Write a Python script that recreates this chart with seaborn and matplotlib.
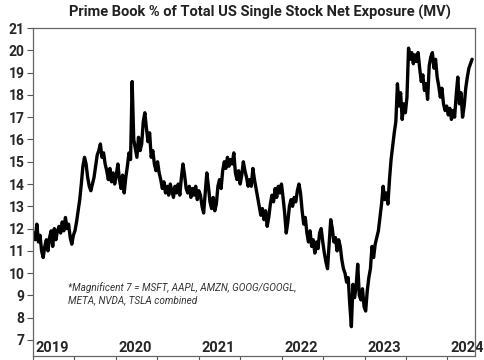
import numpy as np
import pandas as pd
import seaborn as sns
import matplotlib.pyplot as plt
import matplotlib.dates as mdates
import matplotlib.transforms as mtrans

# weekly readings, one list per calendar year
y2019 = [11.8, 11.5, 12.2, 11.4, 11.7, 11.0, 10.7, 11.2, 11.5, 11.0, 11.6,
         11.9, 11.2, 12.0, 11.5, 11.9, 12.1, 11.8, 12.3, 11.9, 12.5,
         12.0, 12.2, 11.6, 11.3, 11.7, 11.9, 12.3, 12.8, 13.3, 14.0, 14.8,
         15.2, 14.9, 14.3, 13.9, 13.7, 14.0, 14.3, 14.8, 15.3, 15.5, 15.8, 15.2,
         15.4, 14.9, 14.6, 14.2, 14.7, 14.1, 14.5, 14.0, 14.4]
y2020 = [14.9, 14.2, 13.8, 14.4, 13.6, 14.3, 14.8, 15.4, 15.1, 18.6, 16.0,
         15.6, 15.2, 16.1, 15.5, 15.8, 16.8, 17.2, 16.5, 15.9, 16.3, 15.2, 15.5,
         14.9, 14.6, 15.0, 14.5, 14.2, 13.8, 14.1, 13.6, 13.9, 13.5, 14.0, 13.7,
         13.4, 13.9, 13.6, 14.0, 13.5, 14.3, 14.9, 14.4, 13.8,
         13.6, 13.9, 13.4, 13.8, 13.5, 13.9, 13.3, 13.7]
y2021 = [13.5, 13.0, 12.7, 13.6, 14.5, 13.9, 13.2, 12.9, 13.4, 12.8, 13.1,
         13.9, 14.2, 13.8, 14.6, 15.0, 14.7, 15.2, 14.8, 15.1, 14.9, 15.4,
         14.5, 14.2, 14.6, 14.0, 14.4, 15.0, 14.6, 14.3, 13.9, 14.2, 13.9, 14.7,
         14.2, 13.8, 13.4, 13.0, 12.6, 12.9, 12.4, 12.8, 12.1, 12.5,
         13.1, 13.5, 13.2, 13.8, 13.4, 13.9, 13.6, 14.0]
y2022 = [13.4, 12.7, 11.8, 12.3, 13.0, 13.3, 13.0, 13.4, 13.2, 13.7, 14.0, 13.6,
         12.8, 12.2, 12.5, 11.8, 11.4, 11.9, 11.2, 11.5, 10.9, 11.4, 11.1,
         11.8, 12.0, 11.4, 10.9, 10.5, 10.2, 11.3, 12.4, 12.0,
         11.4, 11.6, 11.0, 11.5, 11.2, 10.6, 10.2, 10.0, 9.6, 9.8, 8.6, 7.6,
         9.5, 8.9, 9.4, 10.4, 9.0, 8.8, 9.3, 8.5]
y2023 = [8.3, 9.2, 9.8, 10.2, 11.2, 10.7, 11.3, 11.6, 11.9, 12.5, 13.1,
         13.9, 13.3, 13.6, 13.1, 14.2, 15.1, 15.7, 16.3, 16.8, 18.5,
         17.5, 18.1, 16.9, 17.6, 17.2, 17.9, 20.1, 19.6, 19.9, 19.4, 19.8, 19.5, 19.9,
         19.2, 18.6, 18.9, 18.2, 18.5, 17.8, 19.3, 19.7, 19.9, 19.2, 19.6,
         18.8, 18.4, 17.9, 18.3, 17.6, 17.3, 17.5, 17.1]
y2024 = [17.4, 16.9, 17.3, 17.0, 18.0, 18.8, 17.6, 18.1, 17.0, 17.5,
         18.3, 18.8, 19.2, 19.4, 19.6]

title = "Prime Book % of Total US Single Stock Net Exposure (MV)"
note = "*Magnificent 7 = MSFT, AAPL, AMZN, GOOG/GOOGL,\nMETA, NVDA, TSLA combined"

vals = y2019 + y2020 + y2021 + y2022 + y2023 + y2024
df = pd.DataFrame({
    "date": pd.date_range("2019-01-04", periods=len(vals), freq="7D"),
    "pct": vals,
})

sns.set_style("ticks")
plt.rcParams["font.family"] = ["Roboto", "DejaVu Sans"]

fig = plt.figure(figsize=(4.85, 3.6), dpi=100)
ax = fig.add_axes([0.068, 0.011, 0.911, 0.911])

sns.lineplot(data=df, x="date", y="pct", ax=ax, color="black", linewidth=2.4)

ax.set_ylim(6.28, 21)
ax.set_yticks(range(7, 22))
ax.set_xlim(pd.Timestamp("2019-01-01"), pd.Timestamp("2024-05-01"))
ax.xaxis.set_major_locator(mdates.YearLocator())
ax.xaxis.set_major_formatter(mdates.DateFormatter("%Y"))
ax.xaxis.set_minor_locator(mdates.MonthLocator(bymonth=7))
ax.set_xlabel("")
ax.set_ylabel("")

ax.tick_params(axis="y", length=4, width=0.8, color="#555555", labelsize=10, pad=2)
ax.tick_params(axis="x", which="both", length=4, width=0.8, color="#555555",
               labelsize=10.5, pad=-15)
off = mtrans.ScaledTranslation(2 / 72, 0, fig.dpi_scale_trans)
for lab in ax.get_xticklabels():
    lab.set_horizontalalignment("left")
    lab.set_fontweight("bold")
    lab.set_transform(lab.get_transform() + off)
for lab in ax.get_yticklabels():
    lab.set_fontweight("bold")

for s in ax.spines.values():
    s.set_color("#666666")
    s.set_linewidth(0.9)

fig.text(0.535, 0.965, title, ha="center", va="center", fontsize=10.5,
         fontweight="bold", color="#222222")
ax.text(0.08, 0.19, note, transform=ax.transAxes, fontsize=7.2, style="italic",
        color="#333333", va="center", linespacing=1.25)

fig.savefig("out.png", dpi=100)
